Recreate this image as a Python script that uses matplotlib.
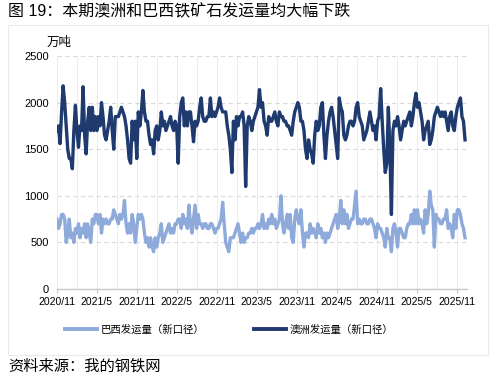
import matplotlib
matplotlib.use("Agg")
import matplotlib.pyplot as plt
import matplotlib.dates as mdates
from matplotlib.patches import Rectangle
import numpy as np
import pandas as pd

plt.rcParams['font.family'] = ['Liberation Sans', 'Noto Sans CJK SC', 'DejaVu Sans']

start_date = "2020-11-01"

australia = [
    1700, 1750, 1560, 1900, 2180, 2000, 1750, 1500, 1400, 1400,
    1290, 1700, 1970, 1700, 1520, 1750, 1700, 2170, 1650, 1450,
    1800, 1950, 1700, 1950, 1700, 1850, 1700, 1850, 1750, 2000,
    1850, 1650, 1600, 1700, 1800, 1950, 1700, 1500, 1850, 1850,
    1850, 1900, 1950, 1900, 1850, 1750, 1600, 1400, 1350, 1800,
    1600, 1800, 1400, 1900, 1750, 1900, 2130, 1900, 1800, 1800,
    1650, 1550, 1600, 1450, 1700, 1750, 1600, 1700, 1900, 1750,
    1800, 1700, 1750, 1800, 1850, 1750, 1700, 1800, 1750, 1350,
    1850, 2000, 2050, 1750, 1900, 1750, 1900, 1900, 1750, 1580,
    1800, 1750, 1800, 1950, 2050, 1850, 1800, 1800, 1850, 1850,
    2050, 1850, 1900, 1850, 1900, 1950, 2050, 1950, 1900, 1900,
    1900, 1750, 1650, 1500, 1250, 1800, 1600, 1850, 1750, 1850,
    1850, 1900, 1750, 1100, 1750, 1850, 1800, 1700, 1800, 1850,
    1900, 1950, 2140, 1950, 2000, 1800, 1750, 1650, 1850, 1800,
    1800, 1850, 1900, 1800, 1750, 1900, 1850, 1850, 1800, 1800,
    1750, 1750, 1700, 1650, 1800, 1900, 1950, 2000, 1950, 1800,
    1800, 1700, 1500, 1400, 1600, 1500, 1450, 1350, 1650, 1800,
    1700, 1750, 1950, 2000, 1650, 1400, 1650, 1800, 1900, 1950,
    1850, 1700, 1550, 1400, 2050, 1950, 1900, 1650, 1600, 1650,
    1750, 1800, 1800, 1750, 1800, 1950, 2000, 1850, 1800, 1750,
    1600, 1650, 1700, 1800, 1900, 1800, 1700, 1750, 1600, 1800,
    1850, 2150, 1800, 1500, 1250, 1350, 1950, 1500, 800, 1700,
    1800, 1750, 1850, 1750, 1600, 1700, 1800, 1750, 1800, 1850,
    1900, 1750, 1850, 2000, 2100, 1950, 2000, 1900, 1800, 1600,
    1700, 1750, 1800, 1550, 1600, 1700, 1850, 1900, 1950, 1900,
    1850, 1900, 1850, 1900, 1800, 1700, 1850, 1900, 1750, 1700,
    1850, 1950, 2000, 2050, 1850, 1800, 1600,
]

brazil = [
    750, 650, 700, 800, 800, 750, 500, 600, 750, 550,
    600, 500, 650, 600, 700, 550, 650, 600, 700, 550,
    700, 600, 500, 750, 700, 800, 800, 700, 800, 600,
    750, 700, 750, 700, 700, 750, 750, 850, 800, 750,
    700, 800, 750, 800, 950, 700, 600, 700, 600, 800,
    700, 500, 650, 800, 750, 800, 750, 600, 500, 550,
    450, 550, 450, 400, 550, 450, 550, 600, 700, 500,
    550, 600, 650, 700, 600, 650, 600, 700, 700, 750,
    750, 650, 800, 700, 750, 650, 900, 700, 600, 750,
    900, 650, 800, 700, 700, 650, 700, 700, 650, 650,
    700, 700, 650, 600, 650, 650, 700, 750, 930, 700,
    500, 450, 400, 550, 550, 550, 600, 650, 700, 600,
    500, 600, 500, 550, 550, 600, 600, 650, 600, 650,
    650, 700, 650, 700, 800, 650, 700, 650, 750, 700,
    800, 700, 750, 650, 700, 750, 1000, 700, 600, 700,
    800, 650, 800, 550, 500, 750, 850, 750, 700, 850,
    600, 450, 600, 600, 550, 700, 600, 650, 600, 550,
    700, 600, 650, 550, 600, 500, 600, 550, 600, 650,
    700, 750, 800, 650, 750, 950, 700, 850, 700, 800,
    650, 700, 750, 750, 900, 1050, 700, 750, 700, 700,
    750, 750, 700, 700, 750, 750, 700, 650, 550, 700,
    650, 650, 600, 550, 450, 650, 550, 550, 400, 650,
    700, 600, 450, 650, 650, 600, 550, 550, 650, 700,
    700, 800, 700, 850, 700, 850, 700, 750, 700, 600,
    850, 700, 800, 1050, 900, 850, 450, 800, 750, 750,
    700, 700, 750, 750, 850, 650, 700, 650, 550, 800,
    650, 850, 850, 800, 700, 650, 550,
]

labels = ["巴西发运量（新口径）", "澳洲发运量（新口径）"]
title = "图 19：本期澳洲和巴西铁矿石发运量均大幅下跌"
source = "资料来源：我的钢铁网"
unit = "万吨"

dates_a = pd.date_range(start_date, periods=len(australia), freq="7D")
dates_b = pd.date_range(start_date, periods=len(brazil), freq="7D")

fig = plt.figure(figsize=(4.97, 3.79), dpi=100)
fig.patch.set_facecolor("white")
ax = fig.add_axes([57/497, 1-289/379, 410/497, 233/379])

c_b = "#8eaadb"
c_a = "#1f3a6e"
ax.plot(dates_b, brazil, color=c_b, lw=2.4, label=labels[0], solid_joinstyle="round", zorder=3)
ax.plot(dates_a, australia, color=c_a, lw=2.4, label=labels[1], solid_joinstyle="round", zorder=4)

ax.set_ylim(0, 2500)
ax.set_yticks(np.arange(0, 2501, 500))
x0 = pd.Timestamp(start_date)
ax.set_xlim(x0, x0 + pd.Timedelta(days=1871))

ax.xaxis.set_major_locator(mdates.MonthLocator(bymonth=[5, 11]))
ax.xaxis.set_minor_locator(mdates.MonthLocator(bymonth=[2, 5, 8, 11]))
ax.xaxis.set_major_formatter(plt.FuncFormatter(lambda v, p: f"{mdates.num2date(v).year}/{mdates.num2date(v).month}"))

ax.grid(axis="y", color="#d9d9d9", ls=(0, (4, 3)), lw=0.8)
ax.grid(axis="x", which="both", color="#ececec", ls="-", lw=0.7)
for s in ["left", "right", "top"]:
    ax.spines[s].set_visible(False)
ax.spines["bottom"].set_color("#c8c8c8")
ax.spines["bottom"].set_linewidth(1.0)
ax.tick_params(axis="x", which="major", length=3, color="#c8c8c8", labelsize=7.5, pad=3)
ax.tick_params(axis="x", which="minor", length=0)
ax.tick_params(axis="y", length=0, labelsize=8, pad=6)

fig.text(47/497, 1-43/379, unit, fontsize=9, va="center", ha="left")
fig.text(8/497, 1-12/379, title, fontsize=11.5, va="center", ha="left")
fig.text(8/497, 1-366/379, source, fontsize=11, va="center", ha="left")

fig.patches.append(Rectangle((8/497, 1-355/379), 480/497, 330/379, transform=fig.transFigure,
                             fill=False, edgecolor="#eaeaea", lw=0.8))

fig.legend(loc="center left", bbox_to_anchor=(65/497, 1-330/379), ncol=2, frameon=False,
           fontsize=7.5, handlelength=3.1, handletextpad=0.3, columnspacing=4.8,
           borderpad=0, borderaxespad=0)
leg = fig.legends[0]
for l in leg.get_lines():
    l.set_linewidth(2.8)

fig.savefig("out.png", dpi=100)
